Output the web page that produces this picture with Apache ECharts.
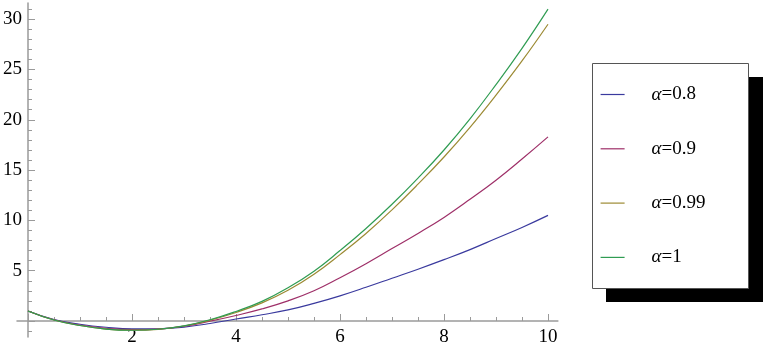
<!DOCTYPE html>
<html><head><meta charset="utf-8">
<script src="https://cdn.jsdelivr.net/npm/echarts@6/dist/echarts.min.js"></script>
<style>html,body{margin:0;padding:0;background:#fff}#c{width:765px;height:348px}</style>
</head><body><div id="c"></div>
<script>
// ---- data ----
const xValues  = [0, 0.5, 1, 1.5, 2, 2.5, 3, 3.5, 4, 4.5, 5, 5.5, 6, 6.5, 7, 7.5, 8, 8.5, 9, 9.5, 10];
const alpha08  = [1.0, 0.15, -0.32, -0.62, -0.78, -0.78, -0.6, -0.25, 0.2, 0.62, 1.1, 1.75, 2.5, 3.35, 4.25, 5.15, 6.1, 7.1, 8.2, 9.3, 10.5];
const alpha09  = [1.0, 0.12, -0.4, -0.72, -0.86, -0.8, -0.52, -0.02, 0.55, 1.2, 2.0, 3.0, 4.3, 5.7, 7.2, 8.7, 10.3, 12.1, 14.0, 16.1, 18.3];
const alpha099 = [1.0, 0.1, -0.45, -0.8, -0.92, -0.83, -0.5, 0.08, 0.85, 1.8, 3.05, 4.65, 6.6, 8.7, 11.05, 13.6, 16.3, 19.25, 22.45, 25.85, 29.5];
const alpha1   = [1.0, 0.1, -0.45, -0.8, -0.92, -0.82, -0.48, 0.12, 0.95, 1.95, 3.3, 4.95, 7.0, 9.2, 11.6, 14.2, 17.0, 20.1, 23.5, 27.1, 31.0];
const seriesNames = ['α=0.8', 'α=0.9', 'α=0.99', 'α=1'];
const seriesValues = [alpha08, alpha09, alpha099, alpha1];
const xTickLabels = [2, 4, 6, 8, 10];
const yTickLabels = [5, 10, 15, 20, 25, 30];

// ---- layout / style ----
const colors = ['#3a3a9e', '#9e2f68', '#9c8a33', '#2f9c52'];
const PX0 = 28, PXS = 52, PY0 = 321, PYS = 10.06;
function gridFor(xmin, xmax, ymin, ymax) {
  return { left: PX0 + xmin * PXS, width: (xmax - xmin) * PXS,
           top: PY0 - ymax * PYS, height: (ymax - ymin) * PYS,
           containLabel: false, outerBoundsMode: 'none' };
}
const FONT = 'Liberation Serif';
const axisGray = '#9a9a9a';
const labelStyle = { color: '#000', fontFamily: FONT, fontSize: 19 };

const chart = echarts.init(document.getElementById('c'), null, { renderer: 'canvas' });
const hiddenLine = { show: true, onZero: false, lineStyle: { opacity: 0 } };

chart.setOption({
  animation: false,
  backgroundColor: '#fff',
  grid: [
    gridFor(-0.2115, 10.19, -1.59, 31.61),
    gridFor(0, 10, 0, 35),
    gridFor(0, 10, -1, 32)
  ],
  xAxis: [
    { type: 'value', gridIndex: 0, min: -0.2115, max: 10.19,
      axisLine: { show: true, onZero: true, lineStyle: { color: axisGray, width: 1.5 } },
      axisTick: { show: false }, axisLabel: { show: false }, splitLine: { show: false } },
    { type: 'value', gridIndex: 1, min: 0, max: 10, interval: 2,
      axisLine: hiddenLine,
      axisTick: { show: true, inside: true, length: 7, lineStyle: { color: axisGray, width: 1 } },
      minorTick: { show: true, splitNumber: 4, length: 4, lineStyle: { color: axisGray, width: 1 } },
      axisLabel: Object.assign({ margin: 7, formatter: v => xTickLabels.indexOf(v) >= 0 ? String(v) : '' }, labelStyle),
      splitLine: { show: false }, minorSplitLine: { show: false } },
    { type: 'value', gridIndex: 2, min: 0, max: 10, show: false }
  ],
  yAxis: [
    { type: 'value', gridIndex: 0, min: -1.59, max: 31.61,
      axisLine: { show: true, onZero: true, lineStyle: { color: axisGray, width: 1.5 } },
      axisTick: { show: false }, axisLabel: { show: false }, splitLine: { show: false } },
    { type: 'value', gridIndex: 1, min: 0, max: 35, interval: 5,
      axisLine: hiddenLine,
      axisTick: { show: true, inside: true, length: 7, lineStyle: { color: axisGray, width: 1 } },
      axisLabel: Object.assign({ margin: 6, formatter: v => yTickLabels.indexOf(v) >= 0 ? String(v) : '' }, labelStyle),
      splitLine: { show: false } },
    { type: 'value', gridIndex: 2, min: -1, max: 32, interval: 1,
      axisLine: hiddenLine,
      axisTick: { show: true, inside: true, length: 4, lineStyle: { color: axisGray, width: 1 } },
      axisLabel: { show: false }, splitLine: { show: false } }
  ],
  legend: {
    data: seriesNames, orient: 'vertical', left: 600, top: 85,
    itemWidth: 24, itemHeight: 14, itemGap: 35.3, padding: 0,
    itemStyle: { color: 'transparent', borderColor: 'transparent', borderWidth: 0, opacity: 0 },
    lineStyle: { width: 1.2 },
    formatter: name => '{s| }{a|α}{b|' + name.slice(1) + '}',
    textStyle: {
      rich: {
        s: { width: 22 },
        a: { fontFamily: FONT, fontStyle: 'italic', fontSize: 19, color: '#000' },
        b: { fontFamily: FONT, fontSize: 19, color: '#000' }
      }
    }
  },
  graphic: [
    { type: 'rect', z: 1, shape: { x: 606, y: 77, width: 157, height: 225 }, style: { fill: '#000' } },
    { type: 'rect', z: 2, shape: { x: 592.5, y: 63.5, width: 156, height: 225 }, style: { fill: '#fff', stroke: '#555', lineWidth: 1 } }
  ],
  series: seriesNames.map((name, i) => ({
    name: name, type: 'line', xAxisIndex: 1, yAxisIndex: 1, clip: false,
    data: xValues.map((x, j) => [x, seriesValues[i][j]]),
    symbol: 'none', smooth: 0.45, color: colors[i],
    lineStyle: { width: 1.2, color: colors[i] }, z: 3
  }))
});
</script>
</body></html>
